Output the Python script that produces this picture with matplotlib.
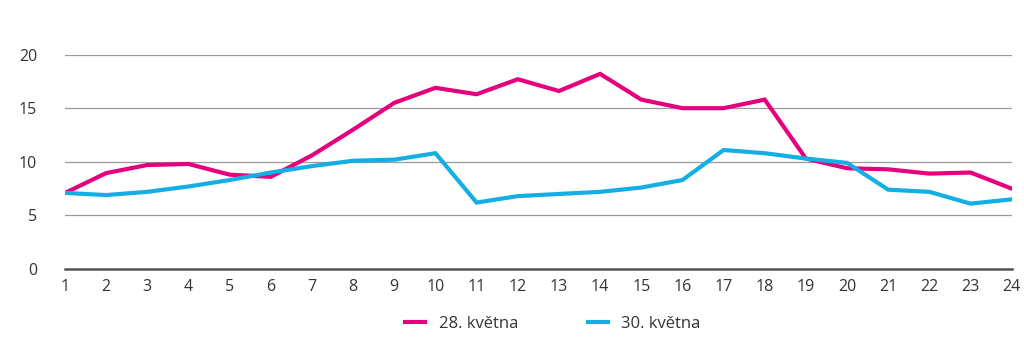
import numpy as np
import matplotlib.pyplot as plt

plt.rcParams['font.family'] = ['Open Sans', 'DejaVu Sans']

hours = list(range(1, 25))
may_28 = [7.1, 8.95, 9.7, 9.8, 8.8, 8.6, 10.6, 13.0, 15.5, 16.9, 16.3, 17.7,
          16.6, 18.2, 15.8, 15.0, 15.0, 15.8, 10.3, 9.4, 9.3, 8.9, 9.0, 7.5]
may_30 = [7.1, 6.9, 7.2, 7.7, 8.3, 9.0, 9.6, 10.1, 10.2, 10.8, 6.2, 6.8,
          7.0, 7.2, 7.6, 8.3, 11.1, 10.8, 10.3, 9.9, 7.4, 7.2, 6.1, 6.5]
labels = ['28. května', '30. května']
colors = ['#E5007D', '#13AEE3']

fig = plt.figure(figsize=(10.24, 3.41), dpi=100)
ax = fig.add_axes([0.0635, 0.211, 0.9245, 0.629])

ax.plot(hours, may_28, color=colors[0], lw=3, label=labels[0], solid_joinstyle='miter')
ax.plot(hours, may_30, color=colors[1], lw=3, label=labels[1], solid_joinstyle='miter')

ax.set_xlim(1, 24)
ax.set_ylim(0, 20)
ax.set_xticks(hours)
ax.set_yticks([0, 5, 10, 15, 20])
ax.grid(axis='y', color='#9a9a9a', lw=0.9)
ax.set_axisbelow(True)
for s in ['top', 'right', 'left']:
    ax.spines[s].set_visible(False)
ax.spines['bottom'].set_color('#555555')
ax.spines['bottom'].set_linewidth(1.8)
ax.tick_params(length=0, labelsize=11.5, labelcolor='#333333')
ax.tick_params(axis='y', pad=20)
ax.tick_params(axis='x', pad=7)

fig.legend(loc='lower center', bbox_to_anchor=(0.54, -0.018), ncol=2, frameon=False,
           fontsize=12, handlelength=1.2, columnspacing=4.2, labelcolor='#333333')

fig.savefig('out.png', dpi=100)
